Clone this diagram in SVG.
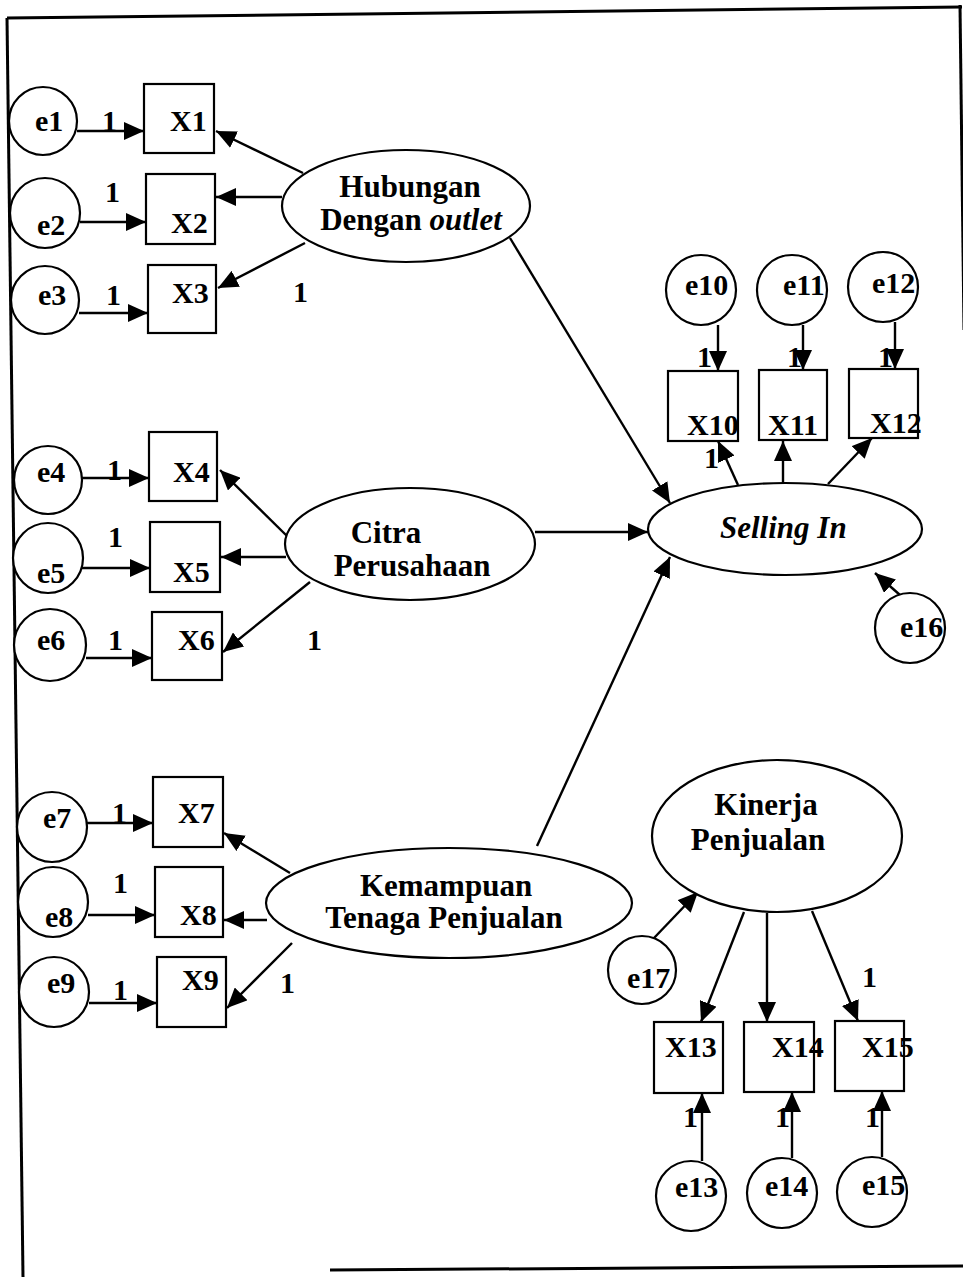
<svg xmlns="http://www.w3.org/2000/svg" width="963" height="1277" viewBox="0 0 963 1277">
  <defs>
    <style>
      .shape { fill: #fff; stroke: #000; stroke-width: 2.2; }
      .lbl { font-family: "Liberation Serif", "Times New Roman", serif; font-weight: bold; font-size: 30px; fill: #000; }
      .big { font-size: 31px; }
      .mid { text-anchor: middle; }
      .it { font-style: italic; }
      .frame { stroke: #000; stroke-width: 3; fill: none; }
      #connectors line { stroke: #000; stroke-width: 2.4; marker-end: url(#ah); }
    </style>
    <marker id="ah" markerUnits="userSpaceOnUse" markerWidth="20" markerHeight="18" refX="20" refY="9" orient="auto">
      <path d="M0,0 L20,9 L0,18 z" fill="#000"/>
    </marker>
  </defs>

  <rect width="963" height="1277" fill="#fff"/>

  <!-- page frame -->
  <g id="frame">
    <line class="frame" x1="7" y1="18" x2="962" y2="7"/>
    <line class="frame" x1="7" y1="18" x2="23" y2="1277"/>
    <line class="frame" x1="960" y1="5" x2="964" y2="330"/>
    <line class="frame" x1="330" y1="1270" x2="963" y2="1266"/>
  </g>

  <!-- paths -->
  <g id="connectors">
    <!-- error terms to left indicators -->
    <line x1="77" y1="131" x2="144" y2="131"/>
    <line x1="80" y1="222" x2="146" y2="222"/>
    <line x1="79" y1="313" x2="148" y2="313"/>
    <line x1="82" y1="478" x2="149" y2="478"/>
    <line x1="82" y1="568" x2="150" y2="568"/>
    <line x1="86" y1="658" x2="152" y2="658"/>
    <line x1="87" y1="823" x2="153" y2="823"/>
    <line x1="88" y1="915" x2="155" y2="915"/>
    <line x1="89" y1="1003" x2="157" y2="1003"/>
    <!-- latent variables to indicators -->
    <line x1="303" y1="173" x2="216" y2="131"/>
    <line x1="282" y1="197" x2="216" y2="197"/>
    <line x1="305" y1="243" x2="218" y2="288"/>
    <line x1="288" y1="537" x2="220" y2="470"/>
    <line x1="286" y1="557" x2="221" y2="557"/>
    <line x1="310" y1="582" x2="223" y2="652"/>
    <line x1="290" y1="873" x2="224" y2="833"/>
    <line x1="267" y1="920" x2="224" y2="920"/>
    <line x1="292" y1="943" x2="227" y2="1008"/>
    <!-- structural paths -->
    <line x1="510" y1="238" x2="670" y2="503"/>
    <line x1="535" y1="532" x2="648" y2="532"/>
    <line x1="537" y1="846" x2="670" y2="557"/>
    <!-- Selling In indicators -->
    <line x1="738" y1="485" x2="718" y2="441"/>
    <line x1="783" y1="483" x2="783" y2="441"/>
    <line x1="828" y1="484" x2="872" y2="438"/>
    <line x1="718" y1="325" x2="718" y2="371"/>
    <line x1="803" y1="325" x2="803" y2="370"/>
    <line x1="895" y1="322" x2="895" y2="369"/>
    <line x1="900" y1="595" x2="875" y2="573"/>
    <!-- Kinerja Penjualan -->
    <line x1="654" y1="938" x2="698" y2="892"/>
    <line x1="744" y1="912" x2="701" y2="1022"/>
    <line x1="767" y1="913" x2="767" y2="1022"/>
    <line x1="812" y1="911" x2="858" y2="1021"/>
    <line x1="702" y1="1161" x2="702" y2="1093"/>
    <line x1="792" y1="1158" x2="792" y2="1092"/>
    <line x1="882" y1="1157" x2="882" y2="1091"/>
  </g>

  <!-- path coefficients -->
  <g id="weights" class="lbl">
    <text x="102" y="131">1</text>
    <text x="105" y="202">1</text>
    <text x="106" y="305">1</text>
    <text x="107" y="480">1</text>
    <text x="108" y="547">1</text>
    <text x="108" y="650">1</text>
    <text x="112" y="823">1</text>
    <text x="113" y="893">1</text>
    <text x="113" y="1000">1</text>
    <text x="293" y="302">1</text>
    <text x="307" y="650">1</text>
    <text x="280" y="993">1</text>
    <text x="704" y="468">1</text>
    <text x="697" y="367">1</text>
    <text x="787" y="367">1</text>
    <text x="878" y="367">1</text>
    <text x="862" y="987">1</text>
    <text x="683" y="1127">1</text>
    <text x="775" y="1127">1</text>
    <text x="865" y="1127">1</text>
  </g>

  <!-- latent variables -->
  <g id="hubungan">
    <ellipse class="shape" cx="406" cy="206" rx="124" ry="56"/>
    <text class="lbl big mid" x="410" y="197">Hubungan</text>
    <text class="lbl big mid" x="411" y="230">Dengan <tspan class="it">outlet</tspan></text>
  </g>
  <g id="citra">
    <ellipse class="shape" cx="410" cy="544" rx="125" ry="56"/>
    <text class="lbl big mid" x="386" y="543">Citra</text>
    <text class="lbl big mid" x="412" y="576">Perusahaan</text>
  </g>
  <g id="kemampuan">
    <ellipse class="shape" cx="449" cy="903" rx="183" ry="55"/>
    <text class="lbl big mid" x="446" y="896">Kemampuan</text>
    <text class="lbl big mid" x="444" y="928">Tenaga Penjualan</text>
  </g>
  <g id="selling-in">
    <ellipse class="shape" cx="785" cy="529" rx="137" ry="46"/>
    <text class="lbl big it" x="720" y="538">Selling In</text>
  </g>
  <g id="kinerja">
    <ellipse class="shape" cx="777" cy="836" rx="125" ry="76"/>
    <text class="lbl big mid" x="766" y="815">Kinerja</text>
    <text class="lbl big mid" x="758" y="850">Penjualan</text>
  </g>

  <!-- observed indicators -->
  <g id="x1"><rect class="shape" x="144" y="84" width="70" height="69"/><text class="lbl" x="170" y="131">X1</text></g>
  <g id="x2"><rect class="shape" x="146" y="174" width="69" height="70"/><text class="lbl" x="171" y="233">X2</text></g>
  <g id="x3"><rect class="shape" x="148" y="265" width="68" height="68"/><text class="lbl" x="172" y="303">X3</text></g>
  <g id="x4"><rect class="shape" x="149" y="432" width="68" height="69"/><text class="lbl" x="173" y="482">X4</text></g>
  <g id="x5"><rect class="shape" x="150" y="522" width="70" height="70"/><text class="lbl" x="173" y="582">X5</text></g>
  <g id="x6"><rect class="shape" x="152" y="612" width="70" height="68"/><text class="lbl" x="178" y="650">X6</text></g>
  <g id="x7"><rect class="shape" x="153" y="777" width="70" height="70"/><text class="lbl" x="178" y="823">X7</text></g>
  <g id="x8"><rect class="shape" x="155" y="867" width="68" height="70"/><text class="lbl" x="180" y="925">X8</text></g>
  <g id="x9"><rect class="shape" x="157" y="957" width="69" height="70"/><text class="lbl" x="182" y="990">X9</text></g>
  <g id="x10"><rect class="shape" x="668" y="371" width="70" height="70"/><text class="lbl" x="687" y="435">X10</text></g>
  <g id="x11"><rect class="shape" x="759" y="370" width="68" height="70"/><text class="lbl" x="768" y="435">X11</text></g>
  <g id="x12"><rect class="shape" x="849" y="369" width="69" height="69"/><text class="lbl" x="870" y="433">X12</text></g>
  <g id="x13"><rect class="shape" x="654" y="1022" width="69" height="71"/><text class="lbl" x="665" y="1057">X13</text></g>
  <g id="x14"><rect class="shape" x="744" y="1022" width="70" height="70"/><text class="lbl" x="772" y="1057">X14</text></g>
  <g id="x15"><rect class="shape" x="835" y="1021" width="69" height="70"/><text class="lbl" x="862" y="1057">X15</text></g>

  <!-- error terms -->
  <g id="e1"><circle class="shape" cx="43" cy="121" r="34"/><text class="lbl" x="35" y="131">e1</text></g>
  <g id="e2"><circle class="shape" cx="45" cy="213" r="35"/><text class="lbl" x="37" y="235">e2</text></g>
  <g id="e3"><circle class="shape" cx="45" cy="300" r="34"/><text class="lbl" x="38" y="305">e3</text></g>
  <g id="e4"><circle class="shape" cx="48" cy="480" r="34"/><text class="lbl" x="37" y="482">e4</text></g>
  <g id="e5"><circle class="shape" cx="48" cy="558" r="35"/><text class="lbl" x="37" y="583">e5</text></g>
  <g id="e6"><circle class="shape" cx="50" cy="645" r="36"/><text class="lbl" x="37" y="650">e6</text></g>
  <g id="e7"><circle class="shape" cx="52" cy="827" r="35"/><text class="lbl" x="43" y="828">e7</text></g>
  <g id="e8"><circle class="shape" cx="53" cy="902" r="35"/><text class="lbl" x="45" y="927">e8</text></g>
  <g id="e9"><circle class="shape" cx="54" cy="992" r="35"/><text class="lbl" x="47" y="993">e9</text></g>
  <g id="e10"><circle class="shape" cx="701" cy="290" r="35"/><text class="lbl" x="685" y="295">e10</text></g>
  <g id="e11"><circle class="shape" cx="792" cy="290" r="35"/><text class="lbl" x="783" y="295">e11</text></g>
  <g id="e12"><circle class="shape" cx="883" cy="287" r="35"/><text class="lbl" x="872" y="293">e12</text></g>
  <g id="e16"><circle class="shape" cx="910" cy="628" r="35"/><text class="lbl" x="900" y="637">e16</text></g>
  <g id="e17"><circle class="shape" cx="642" cy="970" r="34"/><text class="lbl" x="627" y="988">e17</text></g>
  <g id="e13"><circle class="shape" cx="691" cy="1196" r="35"/><text class="lbl" x="675" y="1197">e13</text></g>
  <g id="e14"><circle class="shape" cx="782" cy="1193" r="35"/><text class="lbl" x="765" y="1196">e14</text></g>
  <g id="e15"><circle class="shape" cx="872" cy="1192" r="35"/><text class="lbl" x="862" y="1195">e15</text></g>
</svg>
